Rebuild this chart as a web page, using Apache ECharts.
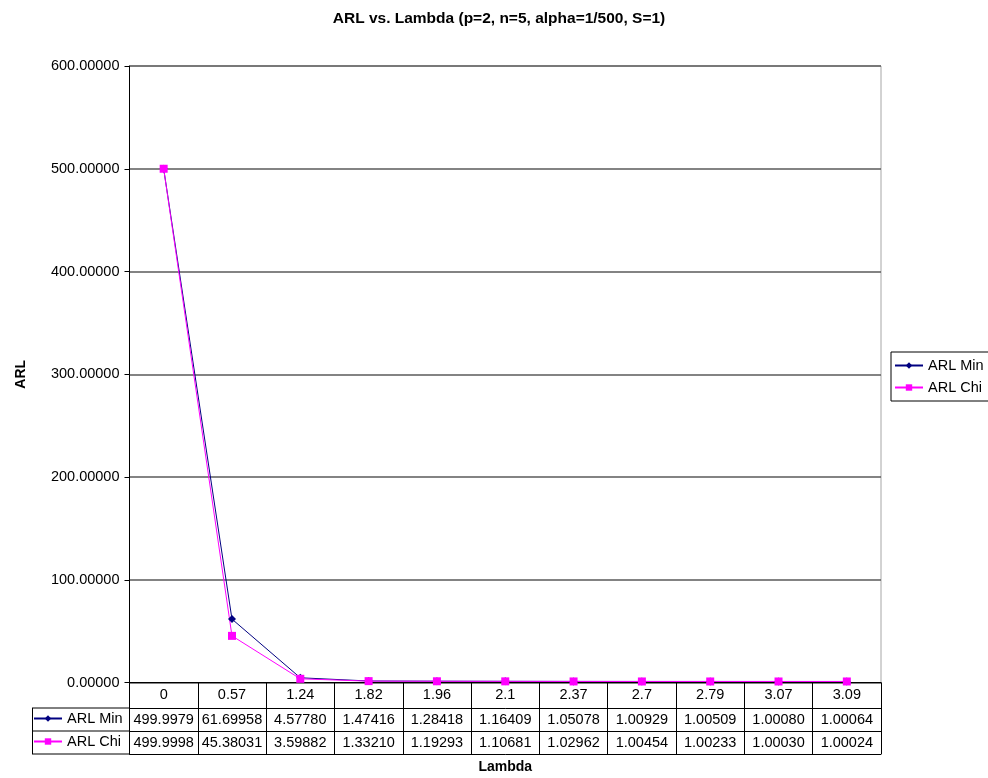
<!DOCTYPE html>
<html>
<head>
<meta charset="utf-8">
<script src="https://cdn.jsdelivr.net/npm/echarts@6/dist/echarts.min.js"></script>
<style>
	html, body { margin: 0; padding: 0; background: #fff; }
	#main { width: 988px; height: 778px; }
</style>
</head>
<body>
<div id="main"></div>
<script>
// chart data
var lambdas = ['0', '0.57', '1.24', '1.82', '1.96', '2.1', '2.37', '2.7', '2.79', '3.07', '3.09'];
var arlMin = [499.9979, 61.69958, 4.57780, 1.47416, 1.28418, 1.16409, 1.05078, 1.00929, 1.00509, 1.00080, 1.00064];
var arlChi = [499.9998, 45.38031, 3.59882, 1.33210, 1.19293, 1.10681, 1.02962, 1.00454, 1.00233, 1.00030, 1.00024];
var yTicks = [0, 100, 200, 300, 400, 500, 600];

var FONT = 'Arial, "Liberation Sans", sans-serif';
var fs = 14.5;

// number shown in the table cell (Excel clips big ones to 4 decimals)
function cell(v) {
	return v >= 100 ? v.toFixed(4) : v.toFixed(5);
}

var chart = echarts.init(document.getElementById('main'));

var L = 129.5, R = 881, T = 66, B = 682.5;
var rowTop = [B, 708, 731, 754];

function tableAxis(data, off) {
	return {
		type: 'category',
		gridIndex: 0,
		position: 'bottom',
		offset: off,
		data: data,
		boundaryGap: true,
		axisLine: { show: true, onZero: false, lineStyle: { color: '#000', width: 1 } },
		axisTick: { show: false },
		axisLabel: { show: true, interval: 0, margin: 4, color: '#000', fontSize: fs, fontFamily: FONT },
		splitLine: { show: false }
	};
}

var xMin = tableAxis(arlMin.map(cell), rowTop[1] - B);
var xChi = tableAxis(arlChi.map(cell), rowTop[2] - B);
var xEnd = tableAxis(lambdas.map(function() { return ''; }), rowTop[3] - B);
xEnd.axisLabel.show = false;
xEnd.name = 'Lambda';
xEnd.nameLocation = 'middle';
xEnd.nameGap = 6;
xEnd.nameTextStyle = { color: '#000', fontSize: 14, fontWeight: 'bold', fontFamily: FONT };

var option = {
	backgroundColor: '#fff',
	animation: false,
	title: {
		text: 'ARL vs. Lambda (p=2, n=5, alpha=1/500, S=1)',
		left: 494,
		textAlign: 'center',
		top: 6,
		textStyle: { color: '#000', fontSize: 15.5, fontWeight: 'bold', fontFamily: FONT }
	},
	grid: {
		left: L, right: 988 - R, top: T, bottom: 778 - B,
		outerBoundsMode: 'none',
		containLabel: false,
		show: true, borderColor: '#a6a6a6', borderWidth: 1, backgroundColor: 'transparent'
	},
	legend: [{
		data: ['ARL Min', 'ARL Chi'],
		orient: 'vertical',
		left: 891, top: 352,
		padding: [6, 6, 6, 3],
		itemGap: 7,
		itemWidth: 28, itemHeight: 8,
		borderColor: '#000', borderWidth: 1,
		selectedMode: false,
		textStyle: { color: '#000', fontSize: fs, fontFamily: FONT }
	}, {
		data: ['ARL Min'],
		left: 33, top: 711,
		padding: 0,
		itemWidth: 28, itemHeight: 8,
		selectedMode: false,
		textStyle: { color: '#000', fontSize: fs, fontFamily: FONT }
	}, {
		data: ['ARL Chi'],
		left: 33, top: 734,
		padding: 0,
		itemWidth: 28, itemHeight: 8,
		selectedMode: false,
		textStyle: { color: '#000', fontSize: fs, fontFamily: FONT }
	}],
	xAxis: [{
		type: 'category',
		position: 'bottom',
		data: lambdas,
		boundaryGap: true,
		axisLine: { show: true, lineStyle: { color: '#000', width: 1 } },
		axisTick: { show: true, interval: 0, inside: false, length: rowTop[3] - B, lineStyle: { color: '#000', width: 1 } },
		axisLabel: { interval: 0, margin: 5, color: '#000', fontSize: fs, fontFamily: FONT },
		splitLine: { show: false }
	}, xMin, xChi, xEnd],
	yAxis: {
		type: 'value',
		min: yTicks[0], max: yTicks[yTicks.length - 1], interval: 100,
		name: 'ARL',
		nameLocation: 'middle',
		nameGap: 101,
		nameRotate: 90,
		nameTextStyle: { color: '#000', fontSize: 14, fontWeight: 'bold', fontFamily: FONT },
		axisLine: { show: true, lineStyle: { color: '#000', width: 1 } },
		axisTick: { show: true, length: 5, lineStyle: { color: '#000' } },
		axisLabel: {
			color: '#000', fontSize: fs, fontFamily: FONT, margin: 10,
			formatter: function(v) { return v.toFixed(5); }
		},
		splitLine: { show: true, lineStyle: { color: '#5a5a5a', width: 1.5 } }
	},
	series: [{
		name: 'ARL Min',
		type: 'line',
		data: arlMin,
		symbol: 'diamond',
		symbolSize: 8,
		color: '#000080',
		lineStyle: { color: '#000080', width: 1 },
		itemStyle: { color: '#000080' }
	}, {
		name: 'ARL Chi',
		type: 'line',
		data: arlChi,
		symbol: 'rect',
		symbolSize: 8,
		color: '#ff00ff',
		lineStyle: { color: '#ff00ff', width: 1 },
		itemStyle: { color: '#ff00ff' }
	}],
	graphic: [
		// legend-key column of the data table
		{ type: 'line', shape: { x1: 32, y1: rowTop[1], x2: L, y2: rowTop[1] }, style: { stroke: '#000', lineWidth: 1 } },
		{ type: 'line', shape: { x1: 32, y1: rowTop[2], x2: L, y2: rowTop[2] }, style: { stroke: '#000', lineWidth: 1 } },
		{ type: 'line', shape: { x1: 32, y1: rowTop[3], x2: L, y2: rowTop[3] }, style: { stroke: '#000', lineWidth: 1 } },
		{ type: 'line', shape: { x1: 32.5, y1: rowTop[1], x2: 32.5, y2: rowTop[3] }, style: { stroke: '#000', lineWidth: 1 } }
	]
};

chart.setOption(option);
</script>
</body>
</html>
